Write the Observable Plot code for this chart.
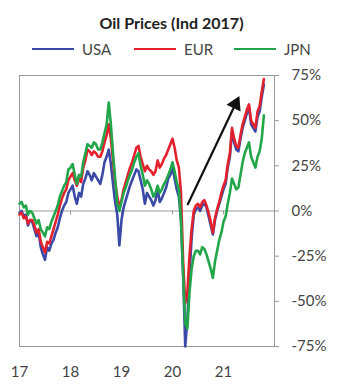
<!DOCTYPE html>
<html>
<head>
<meta charset="utf-8">
<script src="https://cdn.jsdelivr.net/npm/d3@7"></script>
<script src="https://cdn.jsdelivr.net/npm/@observablehq/plot@0.6"></script>
<style>
  body { margin: 0; background: #fff; font-family: Lato, "Open Sans", sans-serif; }
  #wrap { position: relative; width: 356px; height: 392px; }
  #head { height: 60px; position: relative; }
  #title { position: absolute; left: 0; width: 343px; top: 13px; text-align: center; font-weight: bold; font-size: 16px; color: #222; }
  #legend { position: absolute; left: 0; top: 39px; width: 356px; height: 20px; }
  .item { position: absolute; top: 0; display: flex; align-items: center; font-size: 15px; color: #444; height: 20px; }
  .sw { width: 42px; height: 2px; margin-right: 8px; }
</style>
</head>
<body>
<div id="wrap">
  <div id="head">
    <div id="title">Oil Prices (Ind 2017)</div>
    <div id="legend"></div>
  </div>
  <div id="chart"></div>
</div>
<script>
const seriesNames = ["USA", "EUR", "JPN"];
const seriesColors = ["#3a4aa6", "#e4202c", "#22a64a"];
const startYear = 2017;
const stepYears = 1 / 24;
const usa = [-1,0,-3,-2,-8,-5,-6,-10,-14,-12,-20,-24,-27,-20,-22,-18,-16,-12,-9,-4,0,3,5,10,
  12,14,8,4,10,8,15,18,22,20,17,21,19,17,15,20,27,30,34,26,15,5,-2,-19,
  -5,2,6,10,14,17,20,23,22,17,12,4,10,8,6,3,6,12,5,7,10,13,18,20,
  24,18,12,8,-5,-35,-75,-60,-35,-15,-2,1,2,0,3,4,2,-3,-8,-13,-5,0,4,8,
  12,15,24,30,44,38,34,33,40,46,50,54,57,48,46,44,52,55,63,70];
const eur = [-2,-1,-4,-3,-7,-5,-5,-8,-12,-10,-17,-20,-23,-17,-18,-14,-10,-6,-2,3,7,10,12,17,
  19,21,17,14,18,16,24,28,34,33,31,33,32,30,30,33,38,42,48,40,28,16,8,2,
  6,12,16,20,24,27,31,35,36,30,26,22,25,23,22,20,22,28,24,26,29,31,34,37,
  40,35,28,24,10,-28,-51,-45,-25,-10,0,3,4,2,5,6,3,-1,-6,-12,-4,1,5,10,
  14,17,26,32,46,40,36,35,42,48,52,56,59,50,48,46,55,58,66,73];
const jpn = [4,5,2,3,-2,0,-1,-4,-7,-5,-10,-12,-14,-9,-10,-6,-3,0,3,8,11,14,16,23,
  24,26,20,15,20,19,27,32,37,36,35,38,37,34,34,38,43,48,60,48,32,18,4,0,
  5,10,13,17,20,23,27,30,32,25,20,14,17,15,12,8,10,14,10,12,15,17,20,23,
  27,22,16,12,-5,-35,-62,-65,-45,-32,-25,-22,-22,-24,-20,-21,-24,-28,-32,-37,-28,-22,-16,-12,
  -6,-3,4,10,18,15,12,13,20,27,32,35,38,30,27,24,30,33,40,53];
const yearTicks = [2017, 2018, 2019, 2020, 2021];
const yTicks = [-75, -50, -25, 0, 25, 50, 75];
const arrowFrom = {x: 2020.294, y: 3.3};
const arrowTo = {x: 2021.235, y: 59.2};

const valuesBySeries = [usa, eur, jpn];
const data = [];
valuesBySeries.forEach((vals, s) => {
  vals.forEach((v, i) => data.push({series: seriesNames[s], t: startYear + i * stepYears, v}));
});

// legend
const legend = document.getElementById("legend");
const legendLeft = [32, 134, 234];
seriesNames.forEach((name, i) => {
  const it = document.createElement("div");
  it.className = "item";
  it.style.left = legendLeft[i] + "px";
  it.innerHTML = `<div class="sw" style="background:${seriesColors[i]}"></div><span>${name}</span>`;
  legend.appendChild(it);
});

const chart = Plot.plot({
  width: 356,
  height: 332,
  marginTop: 15,
  marginBottom: 46,
  marginLeft: 19,
  marginRight: 82,
  style: {fontFamily: "Lato, 'Open Sans', sans-serif", fontSize: "15px", color: "#444", background: "#fff"},
  x: {domain: [2017, 2022]},
  y: {domain: [-75, 75]},
  color: {domain: seriesNames, range: seriesColors},
  marks: [
    Plot.ruleY([0], {stroke: "#999", strokeWidth: 1}),
    Plot.ruleX(yearTicks, {x: d => d, y1: 0, y2: -2.2, stroke: "#999"}),
    Plot.frame({stroke: "#999", strokeWidth: 1}),
    Plot.axisX(yearTicks, {tickSize: 0, tickPadding: 20, tickFormat: d => String(d).slice(2), fontSize: 15, fill: "#444"}),
    Plot.axisY(yTicks, {anchor: "right", tickSize: 4, tickPadding: 13, tickFormat: d => d + "%", stroke: "#999", fontSize: 15, fill: "#444", textAnchor: "start"}),
    Plot.line(data, {x: "t", y: "v", z: "series", stroke: "series", strokeWidth: 2.6, strokeLinejoin: "round"}),
    Plot.link([{x1: arrowFrom.x, y1: arrowFrom.y, x2: arrowTo.x, y2: arrowTo.y}], {x1: "x1", y1: "y1", x2: "x2", y2: "y2", stroke: "#111", strokeWidth: 2.2}),
    Plot.dot([arrowTo], {x: "x", y: "y", symbol: "triangle", r: 5.8, fill: "#111", stroke: "none", rotate: 25.5})
  ]
});
document.getElementById("chart").appendChild(chart);
</script>
</body>
</html>
